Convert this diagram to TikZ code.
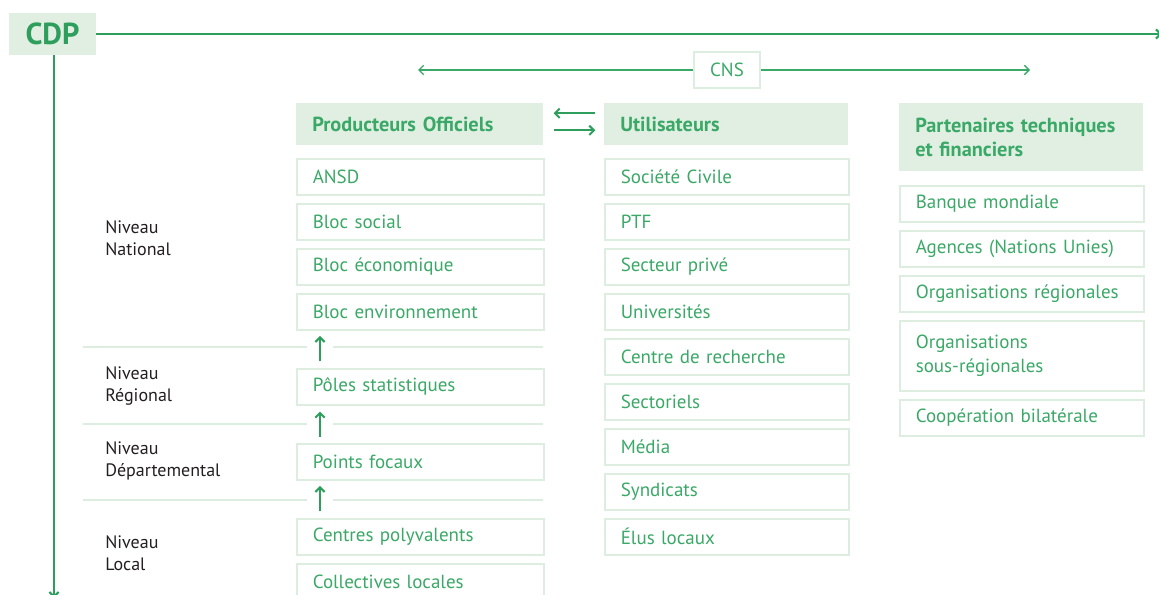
\documentclass[tikz,border=0pt]{standalone}
\usepackage{fontspec}
\setmainfont{PT Sans}
\usetikzlibrary{arrows.meta}

\definecolor{cdpgreen}{HTML}{2E9E5C}
\definecolor{txtgreen}{HTML}{3AA866}
\definecolor{headfill}{HTML}{E1EFE3}
\definecolor{boxline}{HTML}{DDEEE1}
\definecolor{niveaugray}{HTML}{231F20}

\begin{document}
\begin{tikzpicture}
[
	              x = 0.75pt,
	              y = -0.75pt,
	             >= {Straight Barb[length=3.5pt,width=7pt]},
	    head/.style = { fill=headfill, text=txtgreen, font=\bfseries\fontsize{15.25}{17.5}\selectfont,
	                    anchor=north west, minimum height=31.5pt, text width=159pt, inner xsep=12pt, align=left },
	    item/.style = { draw=boxline, line width=1.2pt, text=txtgreen, font=\fontsize{14.25}{17.75}\selectfont,
	                    anchor=north west, minimum height=27pt, text width=159pt, inner xsep=12pt, align=left },
	    wide/.style = { text width=161.25pt },
	  niveau/.style = { text=niveaugray, font=\fontsize{13.5}{16.5}\selectfont, anchor=west, align=left, inner sep=0pt },
	    axis/.style = { draw=cdpgreen, line width=1.5pt, -> },
	    flow/.style = { draw=cdpgreen, line width=1.5pt, -> },
	    thin/.style = { draw=txtgreen, line width=1pt, -> },
	     sep/.style = { draw=boxline, line width=1.5pt }
]
	\useasboundingbox (0,0) rectangle (1159,594);

	% CDP and axes
	\node (cdp) at (52.5,34) [fill=headfill, text=cdpgreen, font=\bfseries\fontsize{22.75}{22.75}\selectfont,
	                          minimum width=65.25pt, minimum height=31.5pt] {CDP};
	\coordinate (topend) at (1162,34);
	\coordinate (botend) at (54,598);
	\draw [axis] (cdp.east) -- (topend);
	\draw [axis] (cdp.south -| botend) -- (botend);

	% CNS
	\node (cns) at (727,70) [draw=boxline, line width=1.2pt, text=txtgreen, font=\fontsize{14.25}{15}\selectfont,
	                         minimum width=49.5pt, minimum height=27pt] {CNS};
	\coordinate (cnsl) at (418,70);
	\coordinate (cnsr) at (1030,70);
	\draw [thin] (cns.west) -- (cnsl);
	\draw [thin] (cns.east) -- (cnsr);

	% niveaux
	\node (n1) at (105,238) [niveau] {Niveau\\National};
	\node (n2) at (105,386) [niveau] {Niveau\\Régional};
	\node (n3) at (105,461) [niveau] {Niveau\\Départemental};
	\node (n4) at (105,553) [niveau] {Niveau\\Local};

	\draw [sep] (83,347) -- (307,347) (333,347) -- (543,347);
	\draw [sep] (83,424) -- (307,424) (333,424) -- (543,424);
	\draw [sep] (83,500) -- (307,500) (333,500) -- (543,500);

	% producteurs officiels
	\node (p0) at (296,103) [head, wide] {Producteurs Officiels};
	\node (p1) at (296,158) [item, wide] {ANSD};
	\node (p2) at (296,203) [item, wide] {Bloc social};
	\node (p3) at (296,248) [item, wide] {Bloc économique};
	\node (p4) at (296,293) [item, wide] {Bloc environnement};
	\node (p5) at (296,368) [item, wide] {Pôles statistiques};
	\node (p6) at (296,443) [item, wide] {Points focaux};
	\node (p7) at (296,518) [item, wide] {Centres polyvalents};
	\node (p8) at (296,563) [item, wide] {Collectives locales};

	\draw [flow, shorten <=5pt, shorten >=4pt] ([xshift=18pt]p5.north west) -- ([xshift=18pt]p4.south west);
	\draw [flow, shorten <=4.5pt, shorten >=4.5pt] ([xshift=18pt]p6.north west) -- ([xshift=18pt]p5.south west);
	\draw [flow, shorten <=5pt, shorten >=4pt] ([xshift=18pt]p7.north west) -- ([xshift=18pt]p6.south west);

	% utilisateurs
	\node (u0) at (604,103) [head] {Utilisateurs};
	\node (u1) at (604,158) [item] {Société Civile};
	\node (u2) at (604,203) [item] {PTF};
	\node (u3) at (604,248) [item] {Secteur privé};
	\node (u4) at (604,293) [item] {Universités};
	\node (u5) at (604,338) [item] {Centre de recherche};
	\node (u6) at (604,383) [item] {Sectoriels};
	\node (u7) at (604,428) [item] {Média};
	\node (u8) at (604,473) [item] {Syndicats};
	\node (u9) at (604,518) [item] {Élus locaux};

	\draw [flow] ([xshift=-6.5pt,yshift=8.25pt]u0.west) -- ([xshift=7.5pt,yshift=8.25pt]p0.east);
	\draw [flow] ([xshift=7.5pt,yshift=-4.5pt]p0.east) -- ([xshift=-6.5pt,yshift=-4.5pt]u0.west);

	% partenaires
	\node (t0) at (899,103) [head, minimum height=51pt] {Partenaires techniques\\et financiers};
	\node (t1) at (899,185) [item] {Banque mondiale};
	\node (t2) at (899,230) [item] {Agences (Nations Unies)};
	\node (t3) at (899,275) [item] {Organisations régionales};
	\node (t4) at (899,320) [item, minimum height=52.5pt] {Organisations\\sous-régionales};
	\node (t5) at (899,399) [item] {Coopération bilatérale};

\end{tikzpicture}
\end{document}
